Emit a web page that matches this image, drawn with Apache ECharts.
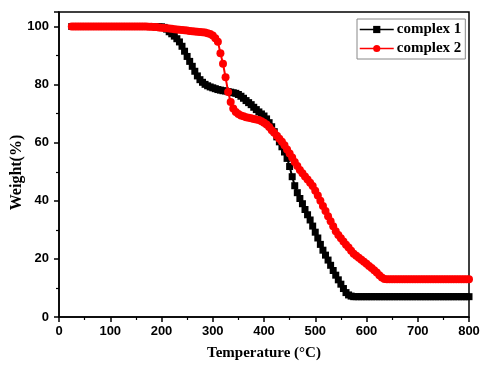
<!DOCTYPE html>
<html>
<head>
<meta charset="utf-8">
<script src="https://cdn.jsdelivr.net/npm/echarts@6/dist/echarts.min.js"></script>
<style>html,body{margin:0;padding:0;background:#fff}#c{width:496px;height:371px}</style>
</head>
<body>
<div id="c"></div>
<script>
var temps = [25,30,35,40,45,50,55,60,65,70,75,80,85,90,95,100,105,110,115,120,125,130,135,140,145,150,155,160,165,170,175,180,185,190,195,
200,205,210,215,220,225,230,235,240,245,250,255,260,265,270,275,280,285,290,295,300,
305,310,315,320,325,330,335,340,345,350,355,360,365,370,375,380,385,390,395,400,
405,410,415,420,425,430,435,440,445,450,455,460,465,470,475,480,485,490,495,500,
505,510,515,520,525,530,535,540,545,550,555,560,565,570,575,580,585,590,595,600,
605,610,615,620,625,630,635,640,645,650,655,660,665,670,675,680,685,690,695,700,
705,710,715,720,725,730,735,740,745,750,755,760,765,770,775,780,785,790,795,800];

var complex1 = [100,100,100,100,100,100,100,100,100,100,100,100,100,100,100,100,100,100,100,100,100,100,100,100,100,100,100,100,100,100,100,100,100,99.9,99.9,
99.9,99.7,99.1,98.2,97.5,96.7,95.8,94.7,93.2,91.5,89.7,88.0,86.3,84.6,83.0,81.7,80.8,80.1,79.6,79.2,78.9,
78.6,78.3,78.1,77.9,77.8,77.6,77.4,77.2,77.0,76.6,76.0,75.3,74.5,73.8,73.1,72.2,71.4,70.6,69.9,69.2,
68.2,66.9,65.5,63.8,62.0,60.3,58.6,56.8,54.6,51.8,48.3,45.2,42.8,40.8,39.0,37.0,35.2,33.4,31.3,29.2,
27.2,25.0,23.0,21.3,19.6,17.8,16.0,14.4,12.8,11.3,9.8,8.4,7.6,7.2,7.0,7.0,7.0,7.0,7.0,7.0,
7.0,7.0,7.0,7.0,7.0,7.0,7.0,7.0,7.0,7.0,7.0,7.0,7.0,7.0,7.0,7.0,7.0,7.0,7.0,7.0,
7.0,7.0,7.0,7.0,7.0,7.0,7.0,7.0,7.0,7.0,7.0,7.0,7.0,7.0,7.0,7.0,7.0,7.0,7.0,7.0];

var complex2 = [100,100,100,100,100,100,100,100,100,100,100,100,100,100,100,100,100,100,100,100,100,100,100,100,100,100,100,100,100,100,99.9,99.9,99.8,99.8,99.7,
99.6,99.5,99.4,99.3,99.2,99.1,99.0,98.9,98.8,98.7,98.6,98.5,98.4,98.3,98.2,98.1,98.0,97.9,97.7,97.4,96.9,
96.0,94.8,90.8,87.2,82.5,77.5,74.0,71.8,70.6,69.9,69.4,69.1,68.8,68.6,68.4,68.2,68.0,67.8,67.4,66.9,
66.3,65.4,64.3,63.4,62.4,61.4,60.3,59.1,57.7,56.3,54.9,53.4,52.0,50.6,49.5,48.4,47.3,46.2,45.1,43.5,
41.8,40.0,38.2,36.5,34.7,33.0,31.2,29.5,28.2,27.1,26.0,24.9,23.9,22.8,21.8,21.1,20.4,19.7,19.0,18.3,
17.6,16.9,16.1,15.3,14.4,13.6,13.1,13.0,13.0,13.0,13.0,13.0,13.0,13.0,13.0,13.0,13.0,13.0,13.0,13.0,
13.0,13.0,13.0,13.0,13.0,13.0,13.0,13.0,13.0,13.0,13.0,13.0,13.0,13.0,13.0,13.0,13.0,13.0,13.0,13.0];

var xTicks = [0,100,200,300,400,500,600,700,800];
var yTicks = [0,20,40,60,80,100];

function pairs(xs, ys){ var out=[]; for (var i=0;i<xs.length;i++) out.push([xs[i], ys[i]]); return out; }

var chart = echarts.init(document.getElementById('c'), null, {renderer:'canvas'});
var labelFont = {fontFamily:'Liberation Sans, Arial, sans-serif', fontWeight:'bold', fontSize:13, color:'#000'};
chart.setOption({
  animation:false,
  backgroundColor:'#fff',
  grid:{left:59, right:27, top:12, bottom:54, outerBoundsMode:'none', containLabel:false, show:true, borderColor:'#000', borderWidth:1.5, backgroundColor:'transparent'},
  xAxis:{
    type:'value', min:0, max:800, interval:100,
    name:'Temperature (°C)', nameLocation:'middle', nameGap:29, nameMoveOverlap:false,
    nameTextStyle:{fontFamily:'Liberation Serif, Times New Roman, serif', fontWeight:'bold', fontSize:15, color:'#000'},
    axisLine:{show:true, lineStyle:{color:'#000', width:1.5}},
    axisTick:{show:true, length:5, lineStyle:{color:'#000', width:1.5}},
    minorTick:{show:true, splitNumber:2, length:3, lineStyle:{color:'#000', width:1.2}},
    splitLine:{show:false},
    axisLabel:Object.assign({margin:8, formatter:function(v){return xTicks.indexOf(v)>=0? String(v):'';}}, labelFont)
  },
  yAxis:{
    type:'value', min:0, max:105, interval:20,
    name:'Weight(%)', nameLocation:'middle', nameGap:34, nameRotate:90, nameMoveOverlap:false,
    nameTextStyle:{fontFamily:'Liberation Serif, Times New Roman, serif', fontWeight:'bold', fontSize:16, color:'#000', padding:[0,0,0,-16]},
    axisLine:{show:true, lineStyle:{color:'#000', width:1.5}},
    axisTick:{show:true, length:5, lineStyle:{color:'#000', width:1.5}},
    minorTick:{show:true, splitNumber:2, length:3, lineStyle:{color:'#000', width:1.2}},
    splitLine:{show:false},
    axisLabel:Object.assign({margin:10, showMaxLabel:false, formatter:function(v){return yTicks.indexOf(v)>=0? String(v):'';}}, labelFont)
  },
  legend:{
    orient:'vertical', left:357, top:19, itemWidth:34, itemHeight:9, itemGap:4,
    padding:[3,4,3,2], borderColor:'#888', borderWidth:1, backgroundColor:'#fff',
    lineStyle:{width:1.5},
    textStyle:{fontFamily:'Liberation Serif, Times New Roman, serif', fontWeight:'bold', fontSize:15, color:'#000', padding:[0,0,0,-2]},
    data:['complex 1','complex 2']
  },
  series:[
    {name:'complex 1', type:'line', data:pairs(temps, complex1), symbol:'rect', symbolSize:7,
     itemStyle:{color:'#000'}, lineStyle:{color:'#000', width:2}, z:2},
    {name:'complex 2', type:'line', data:pairs(temps, complex2), symbol:'circle', symbolSize:8,
     itemStyle:{color:'#ff0000'}, lineStyle:{color:'#ff0000', width:2}, z:3}
  ]
});
</script>
</body>
</html>
